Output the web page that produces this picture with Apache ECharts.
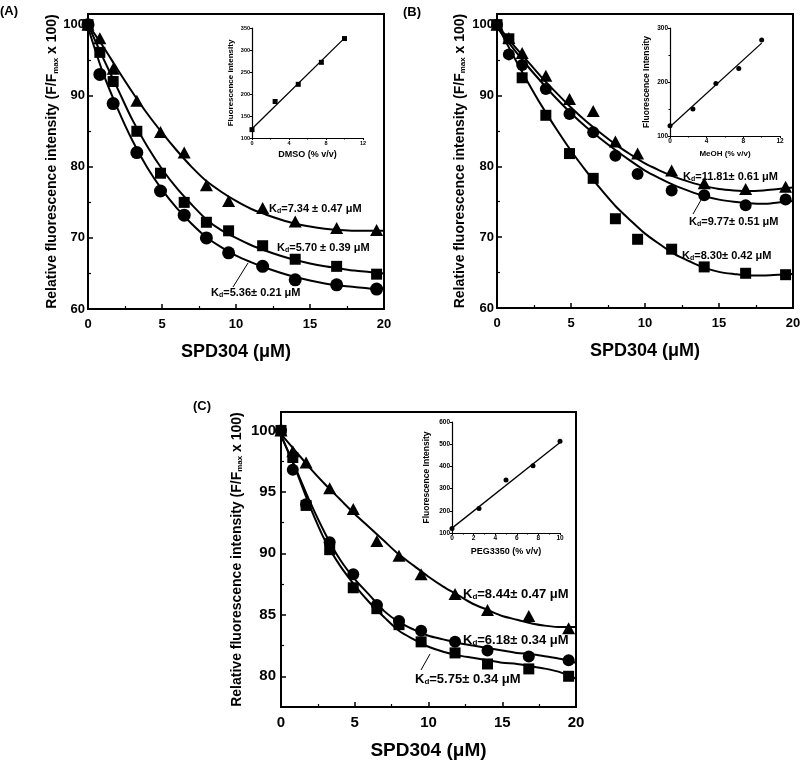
<!DOCTYPE html>
<html><head><meta charset="utf-8">
<script src="https://cdn.jsdelivr.net/npm/echarts@6/dist/echarts.min.js"></script>
<style>html,body{margin:0;padding:0;background:#fff}#c{width:800px;height:762px}</style>
</head><body><div id="c"></div>
<script>
// ---------- data ----------
const conc = [0, 0.8, 1.7, 3.3, 4.9, 6.5, 8.0, 9.5, 11.8, 14.0, 16.8, 19.5];
const fitX = [0, 1, 2, 3, 4, 5, 6, 7, 8, 9, 10, 11, 12, 13, 14, 15, 16, 17, 18, 19, 20];

// Panel A (DMSO)
const A_tri = [100, 98.1, 93.8, 89.3, 84.9, 82.0, 77.4, 75.2, 74.2, 72.3, 71.4, 71.1];
const A_sq  = [100, 96.1, 92.0, 85.0, 79.1, 75.0, 72.2, 71.0, 68.9, 67.0, 66.0, 64.9];
const A_ci  = [100, 93.0, 88.9, 82.0, 76.6, 73.2, 70.0, 67.9, 66.0, 64.1, 63.4, 62.8];
const A_tri_fit = [100, 97.0, 93.7, 90.5, 87.5, 84.8, 82.3, 80.0, 78.0, 76.5, 75.2, 74.1, 73.3, 72.6, 72.0, 71.6, 71.3, 71.1, 71.0, 71.0, 71.0];
const A_sq_fit  = [100, 95.4, 91.0, 86.6, 82.9, 79.7, 77.0, 74.7, 72.6, 71.1, 70.0, 69.0, 68.2, 67.5, 66.9, 66.4, 66.0, 65.7, 65.4, 65.2, 65.0];
const A_ci_fit  = [99.6, 93.3, 88.2, 83.7, 79.9, 76.8, 74.2, 72.0, 70.1, 68.7, 67.5, 66.6, 65.8, 65.1, 64.5, 64.0, 63.6, 63.3, 63.1, 62.9, 62.8];

// Panel B (MeOH)
const B_tri = [100, 98.1, 96.0, 92.8, 89.5, 87.8, 83.5, 81.8, 79.4, 77.6, 76.8, 77.1];
const B_ci  = [100, 95.8, 94.3, 90.9, 87.4, 84.8, 81.5, 78.9, 76.6, 75.9, 74.5, 75.3];
const B_sq  = [100, 98.0, 92.5, 87.2, 81.8, 78.3, 72.6, 69.7, 68.3, 65.8, 64.9, 64.7];
const B_tri_fit = [100, 97.4, 95.0, 92.6, 90.4, 88.3, 86.4, 84.7, 83.1, 81.7, 80.4, 79.4, 78.5, 77.8, 77.2, 76.8, 76.6, 76.5, 76.6, 76.8, 77.0];
const B_ci_fit  = [99.6, 96.9, 94.3, 91.9, 89.6, 87.5, 85.6, 83.9, 82.3, 80.8, 79.4, 78.3, 77.3, 76.5, 75.8, 75.3, 75.0, 74.8, 74.7, 74.9, 75.1];
const B_sq_fit  = [100, 96.0, 92.2, 88.6, 85.3, 82.2, 79.4, 76.8, 74.4, 72.4, 70.5, 69.0, 67.6, 66.6, 65.7, 65.1, 64.8, 64.6, 64.6, 64.7, 64.8];

// Panel C (PEG3350)
const C_tri = [100, 98.3, 97.4, 95.3, 93.6, 91.0, 89.8, 88.3, 86.7, 85.4, 84.9, 83.9];
const C_ci  = [100, 96.8, 94.0, 90.9, 88.3, 85.8, 84.5, 83.7, 82.8, 82.1, 81.6, 81.3];
const C_sq  = [100, 97.8, 93.9, 90.3, 87.2, 85.5, 84.2, 82.8, 81.9, 81.0, 80.6, 80.0];
const C_tri_fit = [99.7, 98.3, 96.9, 95.6, 94.4, 93.2, 92.1, 91.0, 89.9, 89.0, 88.1, 87.3, 86.6, 85.9, 85.4, 84.9, 84.6, 84.3, 84.1, 84.0, 84.0];
const C_ci_fit  = [99.6, 96.9, 94.1, 91.6, 89.5, 87.9, 86.6, 85.3, 84.4, 83.8, 83.3, 83.0, 82.7, 82.5, 82.3, 82.1, 81.9, 81.8, 81.6, 81.4, 81.1];
const C_sq_fit  = [99.6, 96.8, 93.7, 91.0, 89.0, 87.4, 86.0, 84.8, 83.7, 83.0, 82.4, 82.0, 81.7, 81.5, 81.3, 81.1, 81.0, 80.8, 80.6, 80.3, 79.8];

// Insets
const insetX = [0, 2.5, 5, 7.5, 10];
const lineX = [0, 10];
const dmso = [119, 183, 222, 272, 326];
const dmsoFit = [121, 327];
const meoh = [119, 150, 197, 225, 278];
const meohFit = [117, 272];
const peg = [120, 210, 339, 403, 513];
const pegFit = [122, 508];

// tick values
const xMajor = [0, 5, 10, 15, 20];
const xMinor = [2.5, 7.5, 12.5, 17.5];
const yMajorAB = [60, 70, 80, 90, 100];
const yMinorAB = [65, 75, 85, 95];
const yMajorC = [80, 85, 90, 95, 100];
const yMinorC = [82.5, 87.5, 92.5, 97.5];

// ---------- build ----------
const FONT = '"Liberation Sans", Arial, Helvetica, sans-serif';
const pair = (xs, ys) => xs.map((x, i) => [x, ys[i]]);
const grid = [], xAxis = [], yAxis = [], series = [];

function txt(fs, extra) {
  return Object.assign({color: '#000', fontFamily: FONT, fontWeight: 'bold', fontSize: fs}, extra || {});
}

function addMain(g, o) {
  const gi = grid.length;
  grid.push({left: g[0], top: g[1], width: g[2], height: g[3], show: true,
    borderColor: '#000', borderWidth: 2, backgroundColor: 'transparent',
    containLabel: false, outerBoundsMode: 'none'});
  const xi = xAxis.length, yi = yAxis.length;
  xAxis.push({type: 'value', gridIndex: gi, min: 0, max: 20, position: 'bottom',
    axisLine: {show: true, onZero: false, lineStyle: {color: '#000', width: 2}},
    axisTick: {show: true, inside: true, length: 5, customValues: xMajor, lineStyle: {color: '#000', width: 1.5}},
    axisLabel: Object.assign({customValues: xMajor, margin: o.xLabelMargin}, txt(o.tickFs)),
    splitLine: {show: false},
    name: 'SPD304 (μM)', nameLocation: 'middle', nameGap: o.xNameGap, nameTextStyle: txt(o.xNameFs)});
  xAxis.push({type: 'value', gridIndex: gi, min: 0, max: 20, position: 'bottom',
    axisLine: {show: false, onZero: false},
    axisTick: {show: true, inside: true, length: 3, customValues: xMinor, lineStyle: {color: '#000', width: 1.2}},
    axisLabel: {show: false}, splitLine: {show: false}});
  yAxis.push({type: 'value', gridIndex: gi, min: o.yMin, max: o.yMax, position: 'left',
    axisLine: {show: true, onZero: false, lineStyle: {color: '#000', width: 2}},
    axisTick: {show: true, inside: true, length: 5, customValues: o.yMajor, lineStyle: {color: '#000', width: 1.5}},
    axisLabel: Object.assign({customValues: o.yMajor, margin: o.yLabelMargin}, txt(o.tickFs)),
    splitLine: {show: false},
    name: 'Relative fluorescence intensity (F/F{s|max} x 100)', nameLocation: 'middle', nameGap: o.yNameGap,
    nameTextStyle: txt(o.yNameFs, {rich: {s: txt(8, {verticalAlign: 'bottom'})}})});
  yAxis.push({type: 'value', gridIndex: gi, min: o.yMin, max: o.yMax, position: 'left',
    axisLine: {show: false, onZero: false},
    axisTick: {show: true, inside: true, length: 3, customValues: o.yMinor, lineStyle: {color: '#000', width: 1.2}},
    axisLabel: {show: false}, splitLine: {show: false}});
  return {xi, yi};
}

function addCurveSet(ax, sets) {
  sets.forEach(s => {
    series.push({type: 'line', xAxisIndex: ax.xi, yAxisIndex: ax.yi, data: pair(fitX, s.fit),
      smooth: 0.3, showSymbol: false, silent: true,
      lineStyle: {color: '#000', width: 2}, z: 2});
  });
  sets.forEach(s => {
    series.push({type: 'scatter', xAxisIndex: ax.xi, yAxisIndex: ax.yi, data: pair(conc, s.pts),
      symbol: s.sym, symbolSize: s.size, itemStyle: {color: '#000', opacity: 1}, z: 3});
  });
}

function addInset(g, o) {
  const gi = grid.length;
  grid.push({left: g[0], top: g[1], width: g[2], height: g[3], show: false, containLabel: false, outerBoundsMode: 'none'});
  const xi = xAxis.length, yi = yAxis.length;
  xAxis.push({type: 'value', gridIndex: gi, min: 0, max: o.xMax, interval: o.xInt, position: 'bottom',
    axisLine: {show: true, onZero: false, lineStyle: {color: '#000', width: 1.2}},
    axisTick: {show: true, inside: false, length: 2, lineStyle: {color: '#000', width: 1}},
    minorTick: {show: true, splitNumber: 2, length: 1.5, lineStyle: {color: '#000', width: 1}},
    axisLabel: Object.assign({margin: 2}, txt(o.fs)), splitLine: {show: false},
    name: o.xName, nameLocation: 'middle', nameGap: o.xNameGap, nameTextStyle: txt(o.xNameFs)});
  yAxis.push({type: 'value', gridIndex: gi, min: o.yMin, max: o.yMax, interval: o.yInt, position: 'left',
    axisLine: {show: true, onZero: false, lineStyle: {color: '#000', width: 1.2}},
    axisTick: {show: true, inside: false, length: 2, lineStyle: {color: '#000', width: 1}},
    minorTick: {show: o.yMinor, splitNumber: 2, length: 1.5, lineStyle: {color: '#000', width: 1}},
    axisLabel: Object.assign({margin: 2}, txt(o.fs)), splitLine: {show: false},
    name: o.yName, nameLocation: 'middle', nameGap: o.yNameGap, nameTextStyle: txt(o.yNameFs)});
  series.push({type: 'line', xAxisIndex: xi, yAxisIndex: yi, data: pair(lineX, o.fit), showSymbol: false,
    silent: true, lineStyle: {color: '#000', width: 1.3}, z: 2});
  series.push({type: 'scatter', xAxisIndex: xi, yAxisIndex: yi, data: pair(insetX, o.pts),
    symbol: o.sym, symbolSize: o.size, itemStyle: {color: '#000', opacity: 1}, z: 3});
}

// Panel A
const axA = addMain([88, 14, 296, 295], {yMin: 60, yMax: 101.5, yMajor: yMajorAB, yMinor: yMinorAB,
  tickFs: 13, xLabelMargin: 9, yLabelMargin: 3, xNameGap: 34, xNameFs: 18, yNameGap: 26, yNameFs: 14});
addCurveSet(axA, [
  {pts: A_tri, fit: A_tri_fit, sym: 'triangle', size: [13, 12]},
  {pts: A_sq, fit: A_sq_fit, sym: 'rect', size: 11},
  {pts: A_ci, fit: A_ci_fit, sym: 'circle', size: 13}
]);
// Panel B
const axB = addMain([497, 14, 296, 294], {yMin: 60, yMax: 101.5, yMajor: yMajorAB, yMinor: yMinorAB,
  tickFs: 13, xLabelMargin: 9, yLabelMargin: 3, xNameGap: 34, xNameFs: 18, yNameGap: 30, yNameFs: 14});
addCurveSet(axB, [
  {pts: B_tri, fit: B_tri_fit, sym: 'triangle', size: [13, 12]},
  {pts: B_ci, fit: B_ci_fit, sym: 'circle', size: 12},
  {pts: B_sq, fit: B_sq_fit, sym: 'rect', size: 11}
]);
// Panel C
const axC = addMain([281, 412, 295, 295], {yMin: 77.5, yMax: 101.5, yMajor: yMajorC, yMinor: yMinorC,
  tickFs: 15, xLabelMargin: 8, yLabelMargin: 5, xNameGap: 34, xNameFs: 19, yNameGap: 37, yNameFs: 14});
addCurveSet(axC, [
  {pts: C_tri, fit: C_tri_fit, sym: 'triangle', size: [13, 12]},
  {pts: C_ci, fit: C_ci_fit, sym: 'circle', size: 12},
  {pts: C_sq, fit: C_sq_fit, sym: 'rect', size: 11}
]);

// Insets
addInset([252, 28, 111, 110], {xMax: 12, xInt: 4, yMin: 100, yMax: 350, yInt: 50, yMinor: false, fs: 5.5,
  xName: 'DMSO (% v/v)', xNameGap: 12, xNameFs: 9, yName: 'Fluorescence intensity', yNameGap: 17, yNameFs: 8,
  pts: dmso, fit: dmsoFit, sym: 'rect', size: 5});
addInset([670, 28, 110, 108], {xMax: 12, xInt: 4, yMin: 100, yMax: 300, yInt: 100, yMinor: true, fs: 6.5,
  xName: 'MeOH (% v/v)', xNameGap: 14, xNameFs: 8, yName: 'Fluorescence Intensity', yNameGap: 19, yNameFs: 8.5,
  pts: meoh, fit: meohFit, sym: 'circle', size: 5});
addInset([452, 422, 108, 111], {xMax: 10, xInt: 2, yMin: 100, yMax: 600, yInt: 100, yMinor: false, fs: 6.5,
  xName: 'PEG3350 (% v/v)', xNameGap: 14, xNameFs: 9, yName: 'Fluorescence Intensity', yNameGap: 21, yNameFs: 8.5,
  pts: peg, fit: pegFit, sym: 'circle', size: 5});

// annotations
function kd(x, y, val, fs) {
  return {type: 'text', x: x, y: y, z: 10, style: {
    text: 'K{s|d}=' + val, fill: '#000', font: 'bold ' + fs + 'px ' + FONT, verticalAlign: 'middle', align: 'left',
    rich: {s: {fontSize: Math.round(fs * 0.65), fontWeight: 'bold', fontFamily: FONT, fill: '#000', verticalAlign: 'bottom'}}
  }};
}
function lead(x1, y1, x2, y2) {
  return {type: 'line', z: 10, shape: {x1, y1, x2, y2}, style: {stroke: '#000', lineWidth: 1}};
}
function panel(x, y, t) {
  return {type: 'text', x, y, z: 10, style: {text: t, fill: '#000', font: 'bold 13px ' + FONT, verticalAlign: 'middle'}};
}

const graphic = [
  panel(0, 11, '(A)'), panel(403, 12, '(B)'), panel(193, 406, '(C)'),
  kd(269, 209, '7.34 ± 0.47 μM', 11), kd(277, 248, '5.70 ± 0.39 μM', 11), kd(211, 293, '5.36± 0.21 μM', 11),
  lead(233, 287, 248, 263),
  kd(683, 177, '11.81± 0.61 μM', 11), kd(689, 222, '9.77± 0.51 μM', 11), kd(682, 256, '8.30± 0.42 μM', 11),
  lead(693, 214, 701, 200),
  kd(463, 594, '8.44± 0.47 μM', 13), kd(463, 640, '6.18± 0.34 μM', 13), kd(415, 679, '5.75± 0.34 μM', 13),
  lead(421, 670, 430, 654)
];

const chart = echarts.init(document.getElementById('c'), null, {renderer: 'canvas'});
chart.setOption({animation: false, backgroundColor: '#fff', grid, xAxis, yAxis, series, graphic});
</script></body></html>
